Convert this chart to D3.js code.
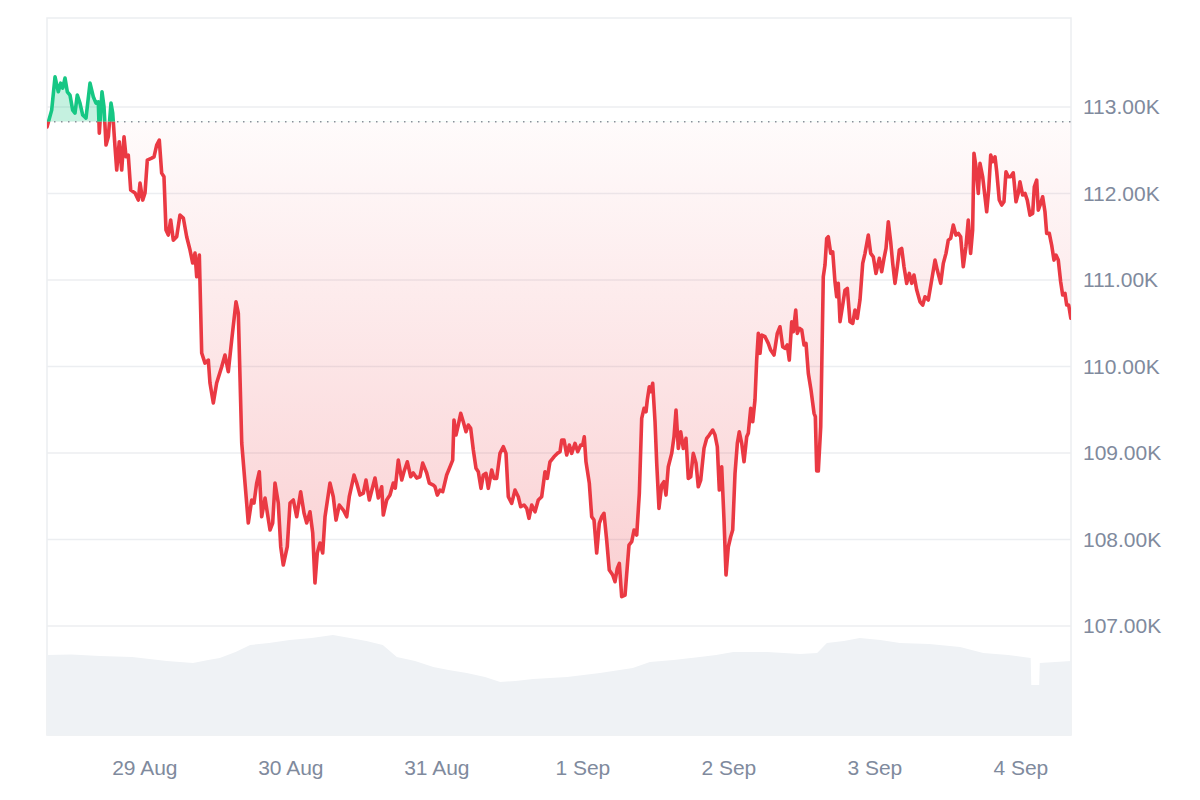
<!DOCTYPE html>
<html><head><meta charset="utf-8">
<script src="https://cdn.jsdelivr.net/npm/d3@7"></script>
<style>
html,body{margin:0;padding:0;background:#fff;}
svg{display:block;font-family:"Liberation Sans",Arial,sans-serif;}
</style></head><body>
<svg id="chart" width="1200" height="800"></svg>
<script>
// ---- data ----
const startTime = Date.UTC(2025, 7, 28, 8, 0); // 28 Aug 08:00 UTC
const spanHours = 168.33;
const baselinePrice = 112830;

const priceHours = [0,0.77,1.32,1.86,2.25,2.58,2.96,3.34,3.78,4.22,4.6,4.98,5.42,5.87,6.41,7.07,7.61,8.05,8.43,8.6,9.04,9.37,9.7,10.08,10.52,10.8,11.18,11.46,11.88,12.28,12.66,12.99,13.36,13.76,14.47,15.01,15.29,15.73,16.11,16.49,17.21,17.59,18.03,18.46,18.85,19.23,19.56,19.94,20.33,20.76,21.32,21.86,22.41,22.96,23.51,23.95,24.33,24.61,25.04,
25.43,25.97,26.52,26.79,27.34,27.89,28.72,29.26,29.8,30.36,31.07,31.45,32.01,32.55,33.09,33.65,34.03,34.47,34.9,35.29,35.84,36.66,37.1,37.48,38.02,38.42,38.84,39.5,39.95,40.49,41.05,41.7,42.25,42.69,43.23,43.68,44.05,44.43,44.88,45.32,45.7,46.52,47.06,47.51,48.05,48.71,49.27,49.69,50.47,50.91,51.45,52.0,52.44,52.98,53.92,54.46,55.02,55.28,55.84,56.38,56.93,57.25,57.75,58.31,58.68,59.23,59.79,60.21,60.77,61.31,61.76,62.42,62.84,
63.5,63.78,64.16,64.6,65.05,65.7,66.36,66.69,66.9,67.23,67.61,68.01,68.43,68.88,69.26,69.65,70.08,70.52,70.9,71.34,71.72,72.16,72.54,73.1,73.48,73.92,74.46,75.01,75.45,75.83,76.39,76.93,77.47,77.87,78.41,78.86,79.23,79.68,80.22,80.76,81.32,81.86,82.24,82.68,83.34,83.88,84.33,84.61,84.99,85.43,85.86,86.25,86.8,87.24,87.73,88.06,88.32,88.6,89.15,89.54,89.92,90.36,90.79,91.18,91.56,92.0,92.43,92.99,93.37,93.75,94.08,94.47,95.02,95.3,95.67,96.12,96.5,96.94,97.37,97.76,98.14,98.47,98.68,99.01,99.24,99.57,99.95,100.23,100.6,101.05,101.42,101.75,102.13,102.69,103.07,103.4,103.78,104.17,104.6,105.04,105.42,105.82,106.24,106.69,107.06,107.46,108.0,108.45,108.87,109.43,109.81,110.19,110.52,110.91,111.29,111.62,112.0,112.39,112.72,113.1,113.48,113.8,114.2,114.58,115.02,115.28,115.68,116.01,116.38,
116.66,116.93,117.21,117.49,118.03,118.57,118.96,119.51,120.05,120.49,120.94,121.31,121.69,122.02,122.42,122.68,123.08,123.34,123.67,124.07,124.44,124.77,125.15,125.59,126.09,126.3,126.53,126.79,127.19,
127.61,127.89,128.17,128.43,128.83,129.16,129.53,129.81,130.07,130.36,130.8,131.18,131.56,132.0,132.45,132.82,133.2,133.64,134.09,134.47,135.01,135.4,135.83,136.27,136.82,137.21,137.59,137.92,138.3,138.69,139.02,139.4,139.78,140.11,140.5,140.88,141.32,141.75,142.15,142.52,142.97,143.51,143.96,144.33,144.87,145.43,145.98,146.35,146.91,147.34,147.78,148.16,148.55,148.98,149.42,149.8,150.19,150.62,151.06,151.44,151.83,152.16,152.38,152.71,153.09,153.37,153.81,154.19,154.47,154.8,155.13,155.46,155.84,156.12,156.54,156.94,157.31,157.64,158.02,158.41,158.84,159.29,159.66,159.94,160.39,160.77,161.14,161.59,162.03,162.3,162.69,162.95,163.35,163.67,164.05,164.33,164.76,165.15,165.53,165.86,166.24,166.63,166.96,167.34,167.62,167.95,168.3];

const prices = [112770,112965,113350,113177,113277,113220,113335,113177,113139,112965,112931,113139,113046,112908,112873,113277,113119,113046,113061,112699,113177,113003,112561,112657,113046,112931,112541,112272,112599,112272,112657,112425,112445,112040,112006,111925,112121,111925,112006,112387,112410,112425,112561,112618,112237,112194,111578,111520,111694,111462,111501,111751,111717,111501,111347,111197,111312,111038,111289,
110156,110040,110075,109809,109578,109809,109998,110133,109940,110306,110749,110618,109116,108653,108191,108457,108422,108653,108784,108263,108480,108110,108191,108653,108422,107917,107705,107917,108422,108457,108263,108553,108306,108191,108321,108075,107497,107844,107960,107844,108263,108653,108495,108225,108399,108341,108263,108495,108746,108653,108514,108537,108688,108457,108711,108480,108610,108283,108457,108514,108653,108595,108919,108688,108784,108899,108726,108769,108711,108726,108884,108769,108653,
108630,108610,108514,108572,108553,108746,108861,108919,109381,109208,109324,109459,109362,109246,109324,109285,109035,108823,108784,108592,108746,108765,108592,108803,108707,108707,108996,109073,108996,108495,108418,108572,108495,108379,108399,108361,108245,108399,108321,108457,108495,108784,108707,108899,108957,108996,109015,109150,109150,108977,109092,108996,109112,109015,109092,109092,109188,108899,108650,108263,108225,107844,108187,108263,108303,107994,107647,107590,107512,107667,107725,107339,107358,107609,107936,107975,108110,108052,108534,109401,109517,109477,109613,109766,109709,109806,109362,108881,108360,108630,108668,108514,108842,108996,109188,109497,109054,109246,109054,109170,108707,108726,108996,108881,108610,108688,109054,109170,109208,109266,109208,109073,108572,108842,108225,107590,107917,108032,108110,108765,109112,109246,109112,108899,109188,109228,109517,109362,109613,
110075,110384,110153,110364,110345,110268,110191,110133,110384,110460,110229,110210,110249,110075,110518,110402,110653,110384,110442,110422,110249,110268,109921,109728,109459,109420,108792,108792,109304,
111038,111173,111482,111501,111309,111327,110980,110807,110962,110518,110711,110884,110904,110518,110499,110653,110557,110769,111193,111309,111520,111309,111269,111077,111251,111096,111251,111366,111674,111443,111193,110962,111154,111347,111366,111154,110962,111077,110962,111058,110884,110749,110711,110807,110769,111000,111231,111116,110962,111193,111309,111462,111482,111636,111520,111540,111501,111154,111385,111694,111309,111578,112465,112310,112002,112349,112194,111963,111790,112040,112445,112368,112425,112252,111925,111867,111905,112252,112194,112194,112240,111905,112002,112136,111983,112002,111925,111751,111771,112079,112156,111809,111887,111963,111790,111540,111540,111405,111231,111289,111231,110980,110827,110846,110711,110711,110560];

const volumeHours = [0,4.0,8.7,14.0,19.7,24.0,26.5,28.4,31.0,33.4,36.5,39.9,43.5,47.0,49.8,52.5,55.2,57.5,60.5,63.5,66.0,69.0,72.0,74.5,77.0,79.9,85.5,90.9,96.3,99.1,103.0,107.3,110.0,112.8,118.4,123.8,126.6,128.2,131.0,133.6,137.0,140.2,145.0,150.1,153.9,158.0,161.7,161.8,163.1,163.2,168.33];
const volumes = [40.0,40.2,39.5,39.0,37.0,36.0,37.5,38.5,41.5,45.0,46.0,47.5,48.5,50.0,48.5,47.0,45.0,39.0,37.0,34.0,32.5,31.0,29.0,26.5,27.0,28.0,29.0,31.0,33.5,36.5,37.5,39.0,40.0,41.5,41.5,40.5,41.0,46.0,47.0,48.5,47.5,46.0,45.5,44.0,41.0,40.0,38.5,25.0,25.0,36.0,37.0];

const yTicks = [107000,108000,109000,110000,111000,112000,113000];
const xTickDates = ["2025-08-29","2025-08-30","2025-08-31","2025-09-01","2025-09-02","2025-09-03","2025-09-04"];

// ---- chart ----
const H = 3600 * 1000;
const toDate = h => new Date(startTime + h * H);
const priceData = priceHours.map((h, i) => ({t: toDate(h), v: prices[i]}));
const volData = volumeHours.map((h, i) => ({t: toDate(h), v: volumes[i]}));

const L = 47, R = 1071, T = 18, B = 735;
const svg = d3.select("#chart");

const x = d3.scaleUtc().domain([new Date(startTime), toDate(spanHours)]).range([L, R]);
const y = d3.scaleLinear().domain([105740, 114030]).range([B, T]);
const yv = d3.scaleLinear().domain([0, 55]).range([B, 625]);

const defs = svg.append("defs");
const by = y(baselinePrice);
defs.append("clipPath").attr("id", "clipAbove").append("rect")
  .attr("x", L).attr("y", T).attr("width", R - L).attr("height", by - T);
defs.append("clipPath").attr("id", "clipBelow").append("rect")
  .attr("x", L).attr("y", by).attr("width", R - L).attr("height", B - by);
const grad = defs.append("linearGradient").attr("id", "redGrad")
  .attr("gradientUnits", "userSpaceOnUse")
  .attr("x1", 0).attr("x2", 0).attr("y1", by).attr("y2", y(d3.min(prices)));
grad.append("stop").attr("offset", 0).attr("stop-color", "#ea3943").attr("stop-opacity", 0.02);
grad.append("stop").attr("offset", 1).attr("stop-color", "#ea3943").attr("stop-opacity", 0.24);

// frame
svg.append("rect").attr("x", L).attr("y", T).attr("width", R - L).attr("height", B - T)
  .attr("fill", "none").attr("stroke", "#eceef1").attr("stroke-width", 1.5);

// gridlines
svg.append("g").selectAll("line").data(yTicks).join("line")
  .attr("x1", L).attr("x2", R).attr("y1", d => y(d)).attr("y2", d => y(d))
  .attr("stroke", "#eceef1").attr("stroke-width", 1.5);

// volume
svg.append("path").datum(volData)
  .attr("fill", "#eff2f5")
  .attr("d", d3.area().x(d => x(d.t)).y0(B).y1(d => yv(d.v)));

// price areas
const area = d3.area().x(d => x(d.t)).y0(by).y1(d => y(d.v));
svg.append("path").datum(priceData).attr("clip-path", "url(#clipAbove)")
  .attr("fill", "rgba(22,199,132,0.25)").attr("d", area);
svg.append("path").datum(priceData).attr("clip-path", "url(#clipBelow)")
  .attr("fill", "url(#redGrad)").attr("d", area);

// baseline
svg.append("line").attr("x1", L).attr("x2", R).attr("y1", by).attr("y2", by)
  .attr("stroke", "#8a8f99").attr("stroke-width", 1.5).attr("stroke-dasharray", "1.5,5.5");

// price lines
const line = d3.line().x(d => x(d.t)).y(d => y(d.v));
svg.append("path").datum(priceData).attr("clip-path", "url(#clipAbove)")
  .attr("fill", "none").attr("stroke", "#16c784").attr("stroke-width", 3.6)
  .attr("stroke-linejoin", "round").attr("stroke-linecap", "round").attr("d", line);
svg.append("path").datum(priceData).attr("clip-path", "url(#clipBelow)")
  .attr("fill", "none").attr("stroke", "#ea3943").attr("stroke-width", 3.6)
  .attr("stroke-linejoin", "round").attr("stroke-linecap", "round").attr("d", line);

// y axis
const yAxis = d3.axisRight(y).tickValues(yTicks).tickSize(0).tickPadding(12)
  .tickFormat(d => d3.format(".2f")(d / 1000) + "K");
const ya = svg.append("g").attr("transform", `translate(${R},0)`).call(yAxis);
ya.select(".domain").remove();
ya.selectAll("text").attr("fill", "#808a9d").attr("font-size", 21)
  .attr("font-family", "'Liberation Sans', Arial, sans-serif");

// x axis
const xTicks = xTickDates.map(s => new Date(s + "T00:00:00Z"));
const xAxis = d3.axisBottom(x).tickValues(xTicks).tickSize(0).tickPadding(25)
  .tickFormat(d3.utcFormat("%-d %b"));
const xa = svg.append("g").attr("transform", `translate(0,${B})`).call(xAxis);
xa.select(".domain").remove();
xa.selectAll("text").attr("fill", "#808a9d").attr("font-size", 21)
  .attr("font-family", "'Liberation Sans', Arial, sans-serif");
</script>
</body></html>
